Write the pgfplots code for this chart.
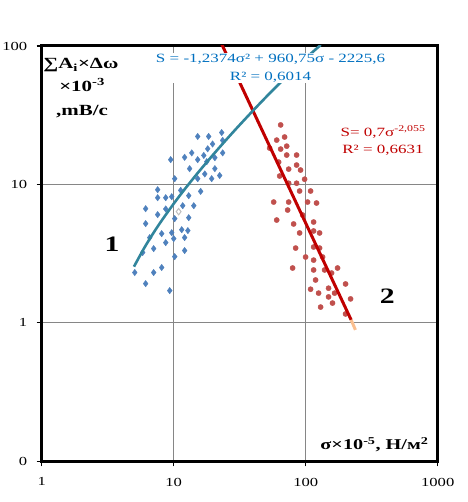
\documentclass[border=0pt]{standalone}
\usepackage{fontspec}
\setmainfont[FakeStretch=1.35]{Liberation Serif}
\usepackage{pgfplots}
\pgfplotsset{compat=1.18}
\definecolor{ptblue}{HTML}{4F81BD}
\definecolor{ptred}{HTML}{C0504D}
\definecolor{trblue}{HTML}{31859C}
\definecolor{trred}{HTML}{C00000}
\definecolor{txtblue}{HTML}{0070C0}
\definecolor{tipc}{HTML}{FABF8F}
\definecolor{gridc}{HTML}{868686}
\begin{document}
\begin{tikzpicture}
\begin{axis}[
  at={(0pt,0pt)}, anchor=south west,
  width=396pt, height=415.3pt, scale only axis,
  xmode=log, ymode=log,
  xmin=1, xmax=1000, ymin=0.1, ymax=100,
  xtick={1,10,100,1000}, xticklabels={1,10,100,1000},
  ytick={0.1,1,10,100}, yticklabels={0,1,10,100},
  xminorticks=false, yminorticks=false,
  tick pos=left, tick align=outside, major tick length=5pt,
  tick style={black, line width=1.2pt},
  axis line style={black, line width=3pt},
  grid=major, grid style={gridc, line width=0.8pt},
  tick label style={font=\fontsize{12.3}{12.3}\selectfont},
  xticklabel style={yshift=-8pt},
  yticklabel style={xshift=-6pt},
  /pgf/number format/assume math mode=true,
  clip mode=individual,
]
% series 1 (blue diamonds)
\addplot[only marks, mark=diamond*, mark size=3.2pt, color=ptblue] coordinates {
(15.2,22.2) (18.4,22.2) (23.1,23.7) (19.7,19.6) (23.5,20.8) (18.1,18.1)
(13.7,16.9) (12.1,15.7) (16.9,16.2) (15.2,15.1) (9.49,15.1) (20.5,15.6)
(23.5,16.9) (13.2,13.0) (17.8,14.6) (20.5,13.0) (10.18,11.0) (15.2,11.0)
(17.2,11.9) (19.4,11.0) (22.3,11.6) (7.56,9.16) (11.3,9.06) (16.0,8.91)
(7.56,8.02) (8.70,8.02) (9.66,8.15) (13.0,8.29) (6.13,6.68) (8.70,6.65)
(11.7,7.02) (14.2,7.02) (7.56,6.05) (6.13,5.21) (10.18,5.66) (13.0,5.75)
(8.11,4.41) (9.66,4.48) (11.5,4.71) (12.8,4.64) (6.58,4.13) (8.70,3.80)
(10.0,4.06) (12.1,4.13) (5.82,3.22) (7.05,3.44) (12.1,3.33) (10.18,3.01)
(8.11,2.51) (5.07,2.31) (7.05,2.31) (6.13,1.92) (9.33,1.71)
};
\addplot[only marks, mark=diamond*, mark size=3.2pt, draw=black!25, fill=white, line width=1pt] coordinates {(10.9,6.36)};
% series 2 (red circles)
\addplot[only marks, mark=*, mark size=2.6pt, color=ptred] coordinates {
(64.6,26.9) (60.3,20.9) (69.2,22.0) (53.3,18.3) (64.6,18.0) (71.8,18.9)
(62.4,14.5) (71.8,16.3) (85.3,16.3) (85.3,13.8) (74.3,12.9) (91.4,12.7)
(63.5,11.5) (98.1,10.9) (74.3,10.2) (85.3,10.2) (89.9,8.96) (108.9,8.96)
(57.2,7.46) (74.3,7.46) (103.3,7.46) (120.8,7.34) (73.0,6.53) (94.8,6.01)
(60.3,5.53) (81.0,5.18) (114.8,5.35) (89.9,4.46) (114.8,4.61) (127.4,4.46)
(83.9,3.47) (114.8,3.53) (127.4,3.47) (99.8,2.99) (114.8,2.84) (134.3,2.99)
(79.6,2.49) (114.8,2.41) (139.0,2.41) (157.0,2.29) (174.3,2.49) (118.8,2.04)
(108.9,1.75) (125.2,1.64) (149.0,1.78) (165.5,1.64) (200.4,1.91) (149.0,1.54)
(159.6,1.39) (218.7,1.49) (129.7,1.30) (200.4,1.16)
};
% power trendline (series 2)
\addplot[trred, line width=3pt] coordinates {(22.9,105) (221,1.05)};
\addplot[tipc, line width=3pt] coordinates {(221,1.05) (238,0.89)};
% polynomial trendline (series 1)
\addplot[trblue, line width=2.6pt, smooth] coordinates {
(5,2.547) (6,3.494) (7,4.439) (8,5.381) (10,7.258) (12,9.125) (15,11.907)
(20,16.494) (25,21.020) (30,25.483) (40,34.225) (50,42.718) (60,50.965)
(70,58.964) (80,66.715) (90,74.219) (100,81.475) (110,88.484) (120,95.246)
(130,101.76)
};
% annotations
\node[fill=white, inner sep=1pt, align=center, text=txtblue, font=\fontsize{12.6}{18}\selectfont]
  at (rel axis cs:0.578,0.947) {S = -1,2374σ² + 960,75σ - 2225,6\\R² = 0,6014};
\node[inner sep=1pt, align=center, text=trred, font=\fontsize{12.6}{17}\selectfont]
  at (rel axis cs:0.862,0.772) {S= 0,7σ\textsuperscript{-2,055}\\R² = 0,6631};
\node[font=\bfseries\fontsize{15.5}{15.5}\selectfont] at (rel axis cs:0.099,0.954) {∑A\textsubscript{i}×Δω};
\node[font=\bfseries\fontsize{15.5}{15.5}\selectfont] at (rel axis cs:0.102,0.906) {×10\textsuperscript{-3}};
\node[font=\bfseries\fontsize{15.5}{15.5}\selectfont] at (rel axis cs:0.102,0.841) {,mB/c};
\node[anchor=east, font=\bfseries\fontsize{15}{15}\selectfont] at (rel axis cs:0.9856,0.0392) {σ×10\textsuperscript{-5}, Н/м\textsuperscript{2}};
\node[font=\bfseries\fontsize{22}{22}\selectfont] at (rel axis cs:0.1775,0.5234) {1};
\node[font=\bfseries\fontsize{22}{22}\selectfont] at (rel axis cs:0.8727,0.398) {2};
\end{axis}
\pgfresetboundingbox
\path[use as bounding box] (-41.7pt,-40.7pt) rectangle (425.3pt,461.3pt);
\end{tikzpicture}
\end{document}
